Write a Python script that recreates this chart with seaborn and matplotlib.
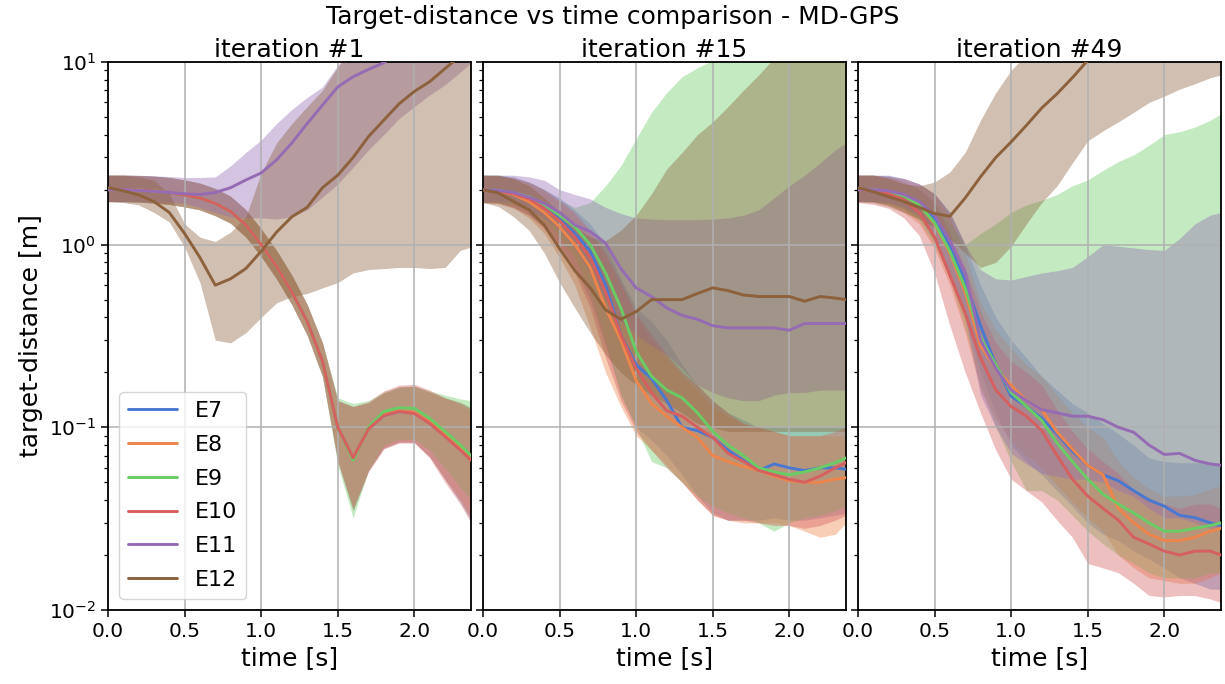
import numpy as np
import pandas as pd
import matplotlib
matplotlib.use("Agg")
import matplotlib.pyplot as plt
import seaborn as sns

# ---------------- data ----------------
t = [0.0, 0.1, 0.2, 0.3, 0.4, 0.5, 0.6, 0.7, 0.8, 0.9, 1.0, 1.1, 1.2,
     1.3, 1.4, 1.5, 1.6, 1.7, 1.8, 1.9, 2.0, 2.1, 2.2, 2.3, 2.37]
series = ["E7", "E8", "E9", "E10", "E11", "E12"]
titles = ["iteration #1", "iteration #15", "iteration #49"]
xticks = [0.0, 0.5, 1.0, 1.5, 2.0]

# ---- iteration #1 ----
p1_E7_mean = [2.0, 2.0, 1.99, 1.97, 1.93, 1.87, 1.8, 1.68, 1.52, 1.28, 1.0, 0.76, 0.55, 0.38, 0.23, 0.10, 0.068, 0.098, 0.116, 0.122, 0.12, 0.106, 0.09, 0.076, 0.067]
p1_E7_lo = [1.72, 1.72, 1.71, 1.69, 1.66, 1.61, 1.55, 1.44, 1.31, 1.1, 0.86, 0.65, 0.47, 0.32, 0.19, 0.065, 0.035, 0.058, 0.077, 0.083, 0.083, 0.069, 0.052, 0.039, 0.031]
p1_E7_hi = [2.4, 2.4, 2.39, 2.37, 2.33, 2.26, 2.17, 2.03, 1.84, 1.55, 1.22, 0.93, 0.68, 0.47, 0.29, 0.14, 0.13, 0.136, 0.154, 0.166, 0.168, 0.156, 0.145, 0.137, 0.128]
p1_E8_mean = [2.0, 2.0, 1.99, 1.97, 1.93, 1.87, 1.8, 1.68, 1.52, 1.28, 1.0, 0.76, 0.55, 0.38, 0.23, 0.10, 0.068, 0.098, 0.117, 0.123, 0.121, 0.107, 0.091, 0.077, 0.067]
p1_E8_lo = [1.72, 1.72, 1.71, 1.69, 1.66, 1.61, 1.55, 1.44, 1.31, 1.1, 0.86, 0.65, 0.47, 0.32, 0.19, 0.065, 0.035, 0.058, 0.077, 0.083, 0.083, 0.069, 0.052, 0.04, 0.032]
p1_E8_hi = [2.4, 2.4, 2.39, 2.37, 2.33, 2.26, 2.17, 2.03, 1.84, 1.55, 1.22, 0.93, 0.68, 0.47, 0.29, 0.14, 0.13, 0.136, 0.154, 0.166, 0.168, 0.156, 0.145, 0.137, 0.128]
p1_E9_mean = [2.0, 2.0, 1.99, 1.97, 1.93, 1.87, 1.8, 1.68, 1.52, 1.28, 1.0, 0.76, 0.55, 0.38, 0.23, 0.10, 0.066, 0.10, 0.122, 0.128, 0.127, 0.112, 0.095, 0.08, 0.07]
p1_E9_lo = [1.72, 1.72, 1.71, 1.69, 1.66, 1.61, 1.55, 1.44, 1.31, 1.1, 0.86, 0.65, 0.47, 0.32, 0.19, 0.062, 0.032, 0.058, 0.08, 0.086, 0.086, 0.075, 0.06, 0.047, 0.04]
p1_E9_hi = [2.4, 2.4, 2.39, 2.37, 2.33, 2.26, 2.17, 2.03, 1.84, 1.55, 1.22, 0.93, 0.68, 0.47, 0.29, 0.145, 0.135, 0.14, 0.156, 0.166, 0.168, 0.158, 0.15, 0.143, 0.14]
p1_E10_mean = [2.0, 2.0, 1.99, 1.97, 1.93, 1.87, 1.8, 1.68, 1.52, 1.28, 1.0, 0.76, 0.55, 0.38, 0.23, 0.10, 0.068, 0.098, 0.116, 0.122, 0.119, 0.105, 0.089, 0.075, 0.066]
p1_E10_lo = [1.72, 1.72, 1.71, 1.69, 1.66, 1.61, 1.55, 1.44, 1.31, 1.1, 0.86, 0.65, 0.47, 0.32, 0.19, 0.065, 0.036, 0.057, 0.076, 0.082, 0.082, 0.068, 0.05, 0.038, 0.03]
p1_E10_hi = [2.4, 2.4, 2.39, 2.37, 2.33, 2.26, 2.17, 2.03, 1.84, 1.55, 1.22, 0.93, 0.68, 0.47, 0.29, 0.14, 0.13, 0.138, 0.158, 0.17, 0.172, 0.16, 0.145, 0.135, 0.125]
p1_E11_mean = [2.0, 2.0, 1.98, 1.96, 1.93, 1.9, 1.88, 1.93, 2.05, 2.26, 2.47, 2.91, 3.6, 4.6, 5.8, 7.3, 8.3, 9.1, 9.9, 11.5, 13.0, 14.5, 16.0, 18.0, 19.0]
p1_E11_lo = [1.72, 1.72, 1.72, 1.71, 1.7, 1.68, 1.6, 1.5, 1.42, 1.4, 1.4, 1.38, 1.42, 1.55, 1.82, 2.15, 2.65, 3.3, 4.0, 4.9, 5.7, 6.6, 7.5, 8.8, 9.9]
p1_E11_hi = [2.4, 2.4, 2.4, 2.38, 2.36, 2.33, 2.33, 2.35, 2.7, 3.2, 3.74, 4.6, 5.5, 6.4, 7.3, 9.6, 12.0, 14.0, 16.0, 18.0, 20.0, 22.0, 24.0, 26.0, 28.0]
p1_E12_mean = [2.05, 1.97, 1.87, 1.72, 1.5, 1.15, 0.85, 0.6, 0.65, 0.74, 0.92, 1.17, 1.42, 1.6, 2.05, 2.4, 3.0, 3.9, 4.8, 5.9, 6.9, 7.8, 9.2, 10.8, 12.0]
p1_E12_lo = [1.72, 1.7, 1.65, 1.5, 1.33, 0.97, 0.62, 0.3, 0.29, 0.33, 0.4, 0.48, 0.52, 0.54, 0.58, 0.62, 0.7, 0.73, 0.74, 0.75, 0.75, 0.74, 0.75, 0.93, 0.97]
p1_E12_hi = [2.4, 2.4, 2.35, 2.25, 1.9, 1.3, 1.1, 1.04, 1.17, 1.42, 2.47, 3.6, 4.6, 5.7, 7.0, 9.4, 12.0, 14.0, 16.0, 18.0, 20.0, 22.0, 24.0, 26.0, 28.0]

# ---- iteration #15 ----
p2_E7_mean = [2.0, 1.98, 1.92, 1.8, 1.6, 1.38, 1.15, 0.92, 0.6, 0.32, 0.22, 0.185, 0.14, 0.10, 0.096, 0.088, 0.075, 0.066, 0.058, 0.063, 0.06, 0.058, 0.06, 0.06, 0.059]
p2_E7_lo = [1.7, 1.7, 1.6, 1.45, 1.25, 1.0, 0.75, 0.5, 0.28, 0.15, 0.1, 0.085, 0.07, 0.055, 0.042, 0.034, 0.031, 0.031, 0.031, 0.032, 0.031, 0.031, 0.032, 0.033, 0.034]
p2_E7_hi = [2.4, 2.4, 2.35, 2.2, 2.0, 1.8, 1.55, 1.3, 1.0, 0.65, 0.45, 0.38, 0.3, 0.22, 0.17, 0.14, 0.12, 0.11, 0.1, 0.1, 0.1, 0.1, 0.1, 0.1, 0.1]
p2_E8_mean = [2.0, 1.97, 1.88, 1.72, 1.5, 1.25, 1.0, 0.75, 0.45, 0.3, 0.18, 0.135, 0.115, 0.1, 0.088, 0.07, 0.065, 0.061, 0.058, 0.054, 0.051, 0.05, 0.05, 0.052, 0.053]
p2_E8_lo = [1.7, 1.68, 1.58, 1.4, 1.15, 0.85, 0.6, 0.35, 0.2, 0.13, 0.09, 0.075, 0.062, 0.05, 0.04, 0.033, 0.031, 0.03, 0.03, 0.03, 0.029, 0.027, 0.025, 0.026, 0.03]
p2_E8_hi = [2.4, 2.38, 2.3, 2.15, 1.95, 1.7, 1.45, 1.15, 0.85, 0.6, 0.4, 0.3, 0.24, 0.19, 0.16, 0.13, 0.115, 0.105, 0.1, 0.095, 0.09, 0.09, 0.09, 0.09, 0.09]
p2_E9_mean = [2.0, 1.98, 1.93, 1.83, 1.65, 1.45, 1.25, 1.0, 0.7, 0.45, 0.26, 0.19, 0.16, 0.145, 0.12, 0.095, 0.08, 0.07, 0.06, 0.057, 0.055, 0.057, 0.06, 0.064, 0.068]
p2_E9_lo = [1.7, 1.7, 1.65, 1.55, 1.35, 1.1, 0.85, 0.55, 0.3, 0.15, 0.1, 0.065, 0.06, 0.05, 0.042, 0.037, 0.034, 0.032, 0.03, 0.027, 0.03, 0.032, 0.033, 0.035, 0.037]
p2_E9_hi = [2.4, 2.4, 2.3, 2.2, 2.0, 1.75, 1.6, 1.7, 2.1, 2.7, 3.8, 5.3, 6.8, 8.3, 9.3, 10.2, 11.0, 12.0, 13.0, 14.0, 15.0, 16.0, 17.0, 18.0, 19.0]
p2_E10_mean = [2.0, 1.97, 1.9, 1.78, 1.58, 1.35, 1.1, 0.85, 0.55, 0.32, 0.21, 0.155, 0.123, 0.115, 0.1, 0.088, 0.072, 0.065, 0.058, 0.055, 0.052, 0.05, 0.054, 0.06, 0.064]
p2_E10_lo = [1.7, 1.68, 1.6, 1.45, 1.22, 0.95, 0.7, 0.45, 0.24, 0.14, 0.095, 0.075, 0.06, 0.05, 0.04, 0.033, 0.031, 0.031, 0.03, 0.029, 0.029, 0.028, 0.029, 0.031, 0.033]
p2_E10_hi = [2.4, 2.38, 2.32, 2.2, 2.0, 1.75, 1.5, 1.2, 0.9, 0.62, 0.42, 0.32, 0.25, 0.2, 0.17, 0.14, 0.12, 0.105, 0.1, 0.095, 0.09, 0.09, 0.09, 0.095, 0.1]
p2_E11_mean = [2.0, 1.98, 1.93, 1.82, 1.68, 1.5, 1.28, 1.18, 1.02, 0.74, 0.58, 0.52, 0.45, 0.41, 0.39, 0.36, 0.35, 0.35, 0.35, 0.35, 0.34, 0.37, 0.37, 0.37, 0.37]
p2_E11_lo = [1.72, 1.72, 1.7, 1.55, 1.4, 1.2, 0.95, 0.7, 0.5, 0.38, 0.32, 0.28, 0.25, 0.21, 0.17, 0.155, 0.145, 0.14, 0.14, 0.15, 0.155, 0.155, 0.16, 0.16, 0.16]
p2_E11_hi = [2.4, 2.4, 2.4, 2.35, 2.25, 2.0, 1.88, 1.78, 1.6, 1.48, 1.4, 1.38, 1.37, 1.37, 1.37, 1.38, 1.4, 1.45, 1.55, 1.8, 2.1, 2.4, 2.8, 3.3, 3.6]
p2_E12_mean = [2.0, 1.92, 1.72, 1.55, 1.28, 0.95, 0.72, 0.58, 0.44, 0.39, 0.43, 0.5, 0.5, 0.5, 0.54, 0.58, 0.56, 0.53, 0.52, 0.52, 0.52, 0.49, 0.52, 0.51, 0.5]
p2_E12_lo = [1.7, 1.62, 1.42, 1.2, 0.9, 0.62, 0.45, 0.33, 0.25, 0.2, 0.17, 0.15, 0.135, 0.12, 0.105, 0.1, 0.095, 0.095, 0.095, 0.095, 0.095, 0.095, 0.095, 0.095, 0.095]
p2_E12_hi = [2.4, 2.4, 2.3, 2.1, 1.8, 1.5, 1.25, 1.1, 1.05, 1.2, 1.45, 1.9, 2.6, 3.2, 4.0, 4.7, 5.7, 7.0, 8.5, 10.5, 13.0, 15.0, 17.0, 19.0, 21.0]

# ---- iteration #49 ----
p3_E7_mean = [2.0, 2.0, 1.96, 1.87, 1.7, 1.38, 0.98, 0.63, 0.36, 0.22, 0.148, 0.13, 0.112, 0.092, 0.074, 0.062, 0.055, 0.051, 0.045, 0.040, 0.037, 0.033, 0.032, 0.030, 0.029]
p3_E7_lo = [1.72, 1.72, 1.68, 1.58, 1.4, 1.05, 0.7, 0.4, 0.2, 0.12, 0.08, 0.065, 0.055, 0.045, 0.037, 0.03, 0.026, 0.024, 0.021, 0.019, 0.017, 0.015, 0.014, 0.013, 0.013]
p3_E7_hi = [2.4, 2.4, 2.38, 2.3, 2.15, 1.9, 1.5, 1.0, 0.6, 0.4, 0.3, 0.24, 0.19, 0.16, 0.135, 0.12, 0.105, 0.092, 0.08, 0.068, 0.065, 0.064, 0.064, 0.064, 0.064]
p3_E8_mean = [2.0, 2.0, 1.95, 1.85, 1.65, 1.3, 0.9, 0.55, 0.28, 0.21, 0.17, 0.14, 0.125, 0.094, 0.076, 0.062, 0.055, 0.036, 0.03, 0.026, 0.024, 0.024, 0.025, 0.027, 0.028]
p3_E8_lo = [1.72, 1.72, 1.65, 1.5, 1.3, 0.95, 0.6, 0.33, 0.16, 0.11, 0.085, 0.07, 0.06, 0.048, 0.039, 0.032, 0.027, 0.02, 0.017, 0.015, 0.0145, 0.014, 0.014, 0.015, 0.016]
p3_E8_hi = [2.4, 2.4, 2.35, 2.3, 2.15, 1.9, 1.4, 0.9, 0.48, 0.34, 0.27, 0.22, 0.19, 0.15, 0.12, 0.1, 0.088, 0.065, 0.053, 0.046, 0.042, 0.042, 0.043, 0.046, 0.048]
p3_E9_mean = [2.0, 2.0, 1.95, 1.85, 1.65, 1.32, 0.92, 0.58, 0.31, 0.22, 0.155, 0.13, 0.109, 0.082, 0.065, 0.052, 0.043, 0.038, 0.034, 0.03, 0.027, 0.027, 0.028, 0.029, 0.03]
p3_E9_lo = [1.72, 1.72, 1.65, 1.55, 1.35, 1.0, 0.65, 0.35, 0.17, 0.1, 0.065, 0.045, 0.045, 0.04, 0.033, 0.027, 0.023, 0.02, 0.018, 0.016, 0.015, 0.015, 0.015, 0.016, 0.016]
p3_E9_hi = [2.4, 2.4, 2.35, 2.2, 2.0, 1.7, 1.3, 1.0, 1.15, 1.3, 1.5, 1.65, 1.75, 1.88, 2.1, 2.26, 2.55, 2.85, 3.1, 3.5, 4.0, 4.15, 4.4, 4.8, 5.2]
p3_E10_mean = [2.0, 1.98, 1.9, 1.75, 1.5, 1.1, 0.68, 0.42, 0.24, 0.16, 0.13, 0.115, 0.096, 0.07, 0.052, 0.042, 0.036, 0.031, 0.025, 0.023, 0.021, 0.02, 0.021, 0.021, 0.02]
p3_E10_lo = [1.7, 1.66, 1.58, 1.4, 1.12, 0.7, 0.36, 0.2, 0.12, 0.075, 0.052, 0.045, 0.039, 0.031, 0.025, 0.018, 0.017, 0.016, 0.014, 0.012, 0.0118, 0.012, 0.012, 0.0115, 0.011]
p3_E10_hi = [2.4, 2.4, 2.35, 2.2, 2.0, 1.7, 1.15, 0.75, 0.43, 0.29, 0.23, 0.2, 0.17, 0.125, 0.095, 0.076, 0.065, 0.056, 0.045, 0.041, 0.038, 0.036, 0.038, 0.038, 0.036]
p3_E11_mean = [2.0, 2.0, 1.97, 1.88, 1.72, 1.45, 1.05, 0.7, 0.3, 0.21, 0.16, 0.14, 0.125, 0.12, 0.115, 0.115, 0.11, 0.1, 0.094, 0.08, 0.071, 0.072, 0.066, 0.063, 0.062]
p3_E11_lo = [1.72, 1.72, 1.7, 1.6, 1.45, 1.1, 0.7, 0.4, 0.15, 0.1, 0.072, 0.063, 0.056, 0.054, 0.052, 0.052, 0.05, 0.045, 0.042, 0.036, 0.032, 0.032, 0.03, 0.028, 0.028]
p3_E11_hi = [2.4, 2.4, 2.4, 2.3, 2.15, 1.9, 1.5, 1.0, 0.73, 0.65, 0.64, 0.67, 0.70, 0.72, 0.75, 0.86, 1.0, 0.98, 0.96, 0.94, 0.93, 1.08, 1.3, 1.45, 1.5]
p3_E12_mean = [2.05, 1.95, 1.83, 1.72, 1.6, 1.48, 1.43, 1.8, 2.35, 3.0, 3.65, 4.5, 5.6, 6.7, 8.2, 10.2, 12.0, 14.0, 16.0, 18.0, 20.0, 22.0, 24.0, 26.0, 28.0]
p3_E12_lo = [1.72, 1.7, 1.62, 1.5, 1.38, 1.25, 1.08, 0.9, 0.75, 0.8, 0.98, 1.3, 1.7, 2.1, 2.8, 3.7, 4.2, 4.7, 5.3, 6.0, 6.5, 7.1, 7.6, 8.2, 8.5]
p3_E12_hi = [2.4, 2.4, 2.3, 2.15, 2.1, 2.2, 2.5, 3.2, 4.8, 6.8, 9.0, 11.0, 13.0, 15.0, 17.0, 19.0, 21.0, 23.0, 25.0, 27.0, 29.0, 31.0, 33.0, 35.0, 37.0]

panels = [
    ([p1_E7_mean, p1_E8_mean, p1_E9_mean, p1_E10_mean, p1_E11_mean, p1_E12_mean],
     [p1_E7_lo, p1_E8_lo, p1_E9_lo, p1_E10_lo, p1_E11_lo, p1_E12_lo],
     [p1_E7_hi, p1_E8_hi, p1_E9_hi, p1_E10_hi, p1_E11_hi, p1_E12_hi]),
    ([p2_E7_mean, p2_E8_mean, p2_E9_mean, p2_E10_mean, p2_E11_mean, p2_E12_mean],
     [p2_E7_lo, p2_E8_lo, p2_E9_lo, p2_E10_lo, p2_E11_lo, p2_E12_lo],
     [p2_E7_hi, p2_E8_hi, p2_E9_hi, p2_E10_hi, p2_E11_hi, p2_E12_hi]),
    ([p3_E7_mean, p3_E8_mean, p3_E9_mean, p3_E10_mean, p3_E11_mean, p3_E12_mean],
     [p3_E7_lo, p3_E8_lo, p3_E9_lo, p3_E10_lo, p3_E11_lo, p3_E12_lo],
     [p3_E7_hi, p3_E8_hi, p3_E9_hi, p3_E10_hi, p3_E11_hi, p3_E12_hi]),
]

# ---------------- style ----------------
sns.set_style("ticks")
plt.rcParams.update({
    "font.family": ["DejaVu Sans"],
    "text.color": "black",
    "axes.labelcolor": "black",
    "axes.titlecolor": "black",
    "axes.axisbelow": "line",
    "axes.edgecolor": "black",
    "axes.linewidth": 1.3,
    "xtick.color": "black",
    "ytick.color": "black",
    "xtick.major.size": 5,
    "ytick.major.size": 5,
    "ytick.minor.size": 3,
    "xtick.major.width": 1.1,
    "ytick.major.width": 1.1,
    "ytick.minor.width": 0.9,
})
colors = sns.color_palette("muted", 6)

fig, axes = plt.subplots(1, 3, figsize=(12.25, 6.84), dpi=100, sharey=True)
fig.subplots_adjust(left=0.0882, right=0.9967, top=0.9094, bottom=0.1082, wspace=0.033)

for ax, title, (means, los, his) in zip(axes, titles, panels):
    for c, lo, hi in zip(colors, los, his):
        ax.fill_between(t, lo, hi, color=c, alpha=0.4, linewidth=0, zorder=1)
    df = pd.DataFrame({
        "time": np.tile(t, len(series)),
        "dist": np.concatenate(means),
        "run": np.repeat(series, len(t)),
    })
    sns.lineplot(data=df, x="time", y="dist", hue="run", hue_order=series,
                 palette=colors, ax=ax, legend=False, linewidth=2.1,
                 estimator=None, sort=False, zorder=3)
    ax.set_yscale("log")
    ax.set_ylim(0.01, 10)
    ax.set_xlim(0, 2.37)
    ax.set_xticks(xticks)
    ax.set_xticklabels([f"{v:.1f}" for v in xticks])
    ax.grid(True, which="major", color="#b0b0b0", linewidth=1.1)
    ax.grid(False, which="minor")
    ax.tick_params(axis="both", which="major", labelsize=14.5)
    ax.set_title(title, fontsize=18, pad=3)
    ax.set_xlabel("time [s]", fontsize=18)
    ax.set_ylabel("")
    for s in ax.spines.values():
        s.set_visible(True)
        s.set_color("black")

axes[0].set_ylabel("target-distance [m]", fontsize=18)
axes[0].legend(handles=axes[0].lines[:6], labels=series, loc="lower left",
               fontsize=16, frameon=True, handlelength=2.2, labelspacing=0.62)
fig.suptitle("Target-distance vs time comparison - MD-GPS", fontsize=18, y=0.993)

fig.savefig("out.png", dpi=100)
